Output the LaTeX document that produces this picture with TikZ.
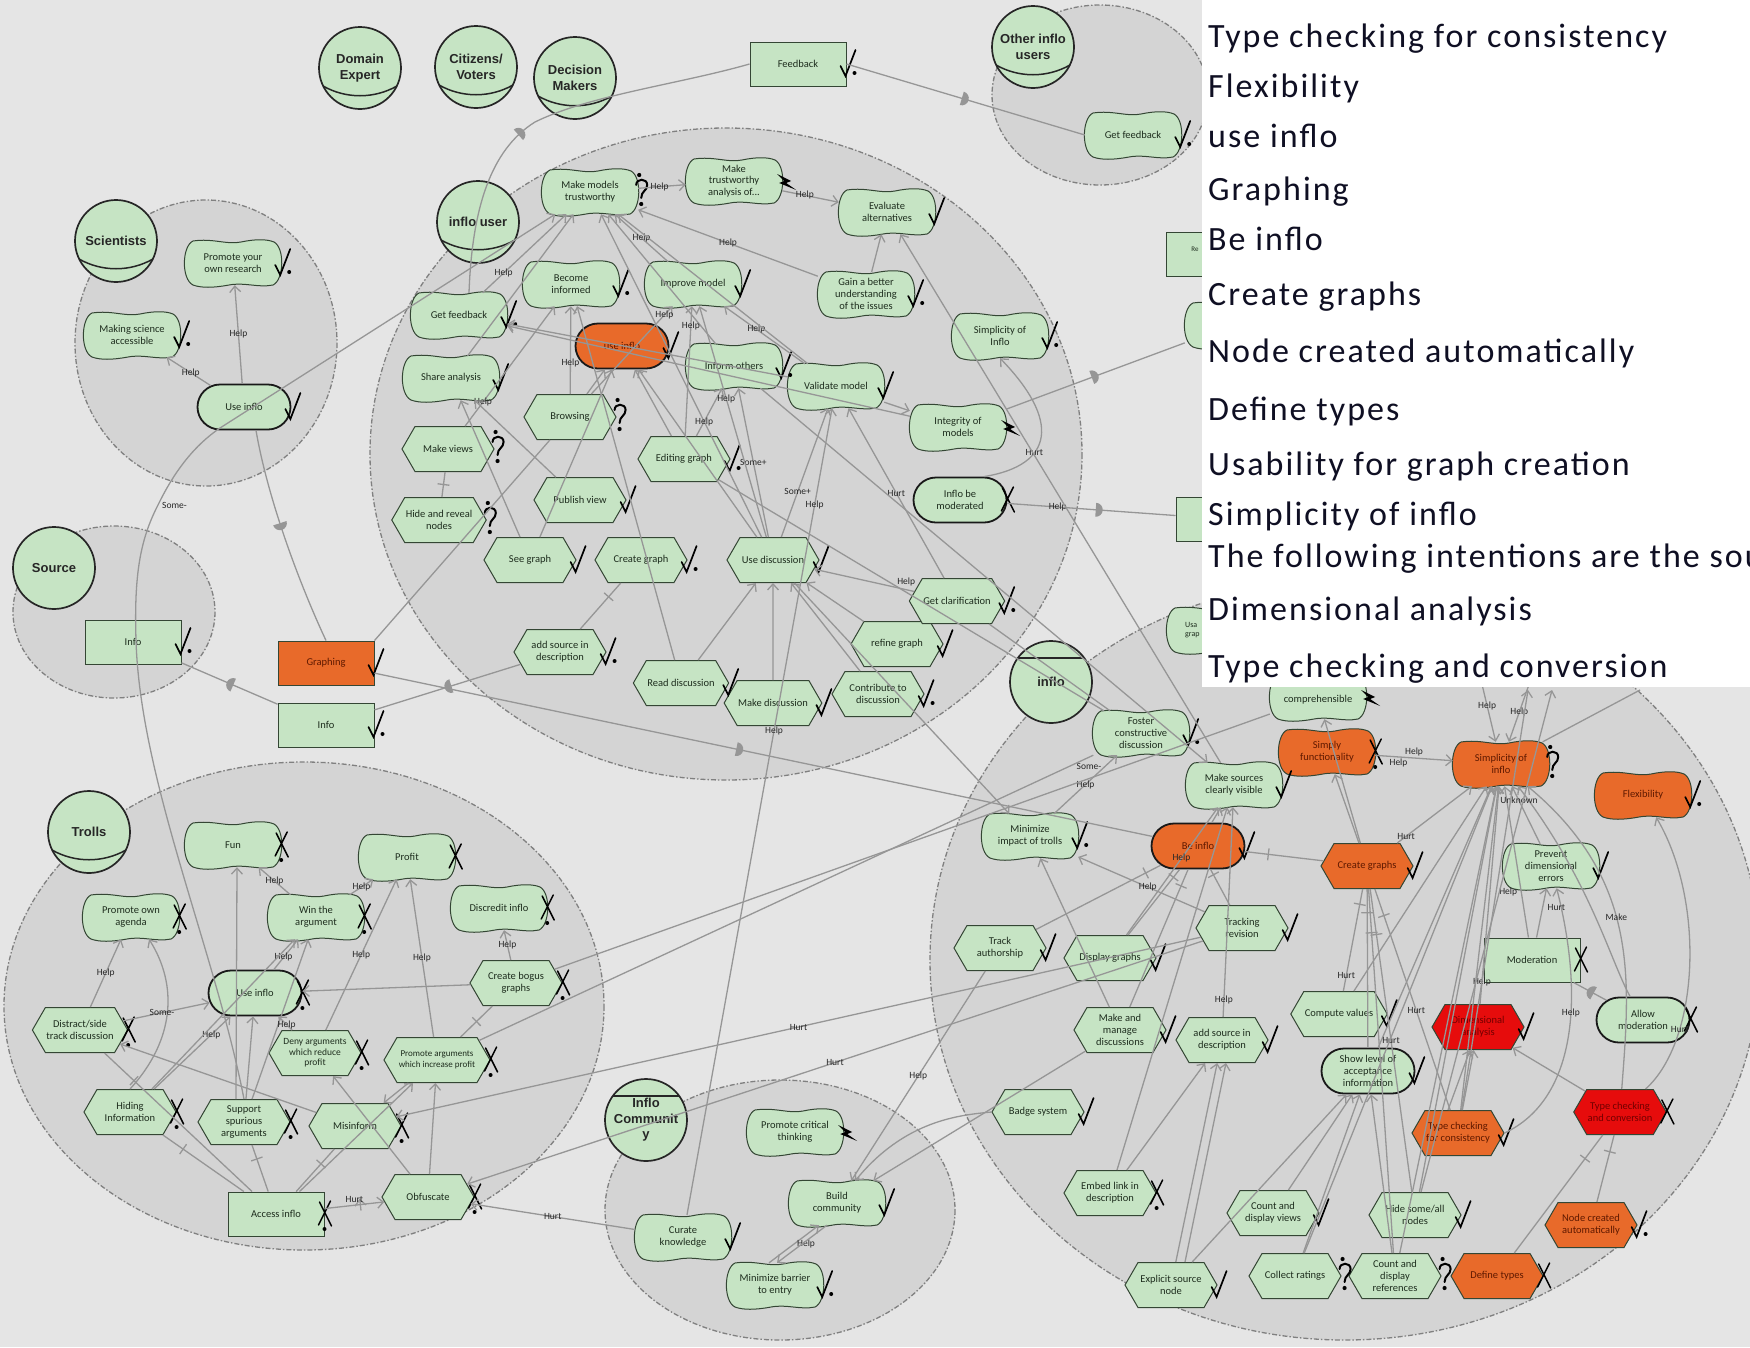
\documentclass[tikz,border=0pt]{standalone}
\usepackage{fontspec}
\setmainfont{Carlito}
\newfontfamily\actorfont{Liberation Sans}
\newfontfamily\panelfont{Carlito}[LetterSpace=6]
\usetikzlibrary{shapes.symbols,shapes.misc,arrows.meta,decorations.markings}

\definecolor{bgc}{RGB}{229,229,229}
\definecolor{bndfill}{RGB}{212,212,212}
\definecolor{bndline}{RGB}{128,128,128}
\definecolor{elgreen}{RGB}{198,228,196}
\definecolor{elorange}{RGB}{232,106,42}
\definecolor{elred}{RGB}{230,12,12}
\definecolor{eledge}{RGB}{52,70,52}
\definecolor{lnk}{RGB}{150,150,150}
\definecolor{txt}{RGB}{30,45,30}
\definecolor{hottxt}{RGB}{95,25,0}
\definecolor{alarmtxt}{RGB}{115,0,0}
\definecolor{paneltext}{RGB}{15,15,35}

\tikzset{
  bnd/.style={fill=bndfill, draw=bndline, line width=1.3pt, dash pattern=on 5pt off 2pt on 1.5pt off 2pt},
  actor/.style={circle, draw=black!85, line width=1.7pt, fill=elgreen, minimum size=82pt, inner sep=0pt,
    align=center, font=\actorfont\bfseries\fontsize{13}{15.5}\selectfont, text=black!85},
  actline/.style={draw=black!85, line width=1.5pt},
  elt/.style={align=center, font=\fontsize{10.5}{11.8}\selectfont, text=txt, inner sep=1pt},
  sgbox/.style={elt, rectangle, minimum width=96pt, minimum height=44pt},
  sgshape/.style={draw=eledge, line width=1pt},
  goal/.style={elt, rounded rectangle, draw=black!90, line width=1.8pt, fill=elgreen, minimum width=95pt, minimum height=45pt},
  task/.style={elt, signal, signal to=east and west, signal pointer angle=120, draw=eledge, line width=1pt,
    fill=elgreen, minimum width=92pt, minimum height=45pt},
  res/.style={elt, rectangle, draw=eledge, line width=1pt, fill=elgreen, minimum width=96pt, minimum height=44pt},
  hot/.style={fill=elorange, text=hottxt},
  alarm/.style={fill=elred, text=alarmtxt},
  lk/.style={draw=lnk, line width=1.3pt},
  ar/.style={lk, -{Straight Barb[length=6pt,width=11pt,line width=1.3pt]}},
  lbl/.style={font=\fontsize{9.5}{10}\selectfont, text=black!85, inner sep=0.5pt},
  dep/.style={lk, postaction={decorate, decoration={markings, mark=at position #1 with
      {\fill[lnk] (-4pt,-7pt) -- (-4pt,7pt) arc[start angle=90, end angle=-90, radius=7pt] -- cycle;}}}},
  dep/.default=0.5,
  dec/.style={lk, postaction={decorate, decoration={markings, mark=at position #1 with
      {\draw[lnk, line width=1.3pt] (0pt,-6pt) -- (0pt,6pt);}}}},
  dec/.default=0.5,
  paneltxt/.style={anchor=base west, inner sep=0pt, font=\panelfont\fontsize{34}{40}\selectfont, text=paneltext},
  sat/.pic={\draw[black, line width=1.7pt, line cap=round] (-3,2) -- (2,12) -- (12,-14);},
  psat/.pic={\draw[black, line width=1.7pt, line cap=round] (-3,2) -- (2,12) -- (12,-14);
    \fill[black] (11,9) circle (2pt);},
  den/.pic={\draw[black, line width=1.5pt, line cap=round] (-2,-12) -- (10,12) (9,-13) -- (-3,11);},
  pden/.pic={\draw[black, line width=1.5pt, line cap=round] (-2,-12) -- (10,12) (9,-13) -- (-3,11);
    \fill[black] (3,15) circle (2pt);},
  unk/.pic={\draw[black, line width=2pt, line cap=round] (0,-7) .. controls (0,-14) and (11,-14) .. (11,-7)
    .. controls (11,-1) and (5,-1) .. (5,6);
    \fill[black] (5,12) circle (2.1pt); \fill[black] (3,-17) circle (2.1pt);},
  cnf/.pic={\fill[black] (-2,-7) -- (12,0) -- (7,2) -- (17,9) -- (0,2) -- (5,0) -- cycle;}
}

% softgoal: wavy cloud outline with a rectangular anchor box
\NewDocumentCommand\softgoal{O{elgreen} O{txt} m m m m}{%
  \draw[sgshape, fill=#1, shift={(#4,#5)}] (-40,-22) .. controls (-20,-25) and (-6,-18) .. (8,-21)
    .. controls (22,-24) and (34,-24) .. (41,-21) .. controls (52,-15) and (51,17) .. (40,22)
    .. controls (25,25) and (12,19) .. (-4,22) .. controls (-20,25) and (-32,25) .. (-40,22)
    .. controls (-52,16) and (-51,-17) .. (-40,-22) -- cycle;
  \node[sgbox, text=#2] (#3) at (#4,#5) {#6};}
% role: circle with a curved line near the bottom
\newcommand\roleactor[4]{%
  \node[actor] (#1) at (#2,#3) {#4};
  \draw[actline, shift={(#2,#3)}] (-37,18) .. controls (-14,31) and (14,31) .. (37,18);}
% agent: circle with a straight line near the top
\newcommand\agentactor[4]{%
  \node[actor] (#1) at (#2,#3) {#4};
  \draw[actline, shift={(#2,#3)}] (-33,-24) -- (33,-24);}

\begin{document}
\begin{tikzpicture}[x=1pt, y=-1pt]
\useasboundingbox (0,0) rectangle (1750,1347);
\fill[bgc] (0,0) rectangle (1750,1347);

% ---------- actor boundaries ----------
\draw[bnd] (206,343) ellipse [x radius=131, y radius=143];
\draw[bnd] (726,454) ellipse [x radius=356, y radius=326];
\draw[bnd] (1100,95) ellipse [x radius=108, y radius=90];
\draw[bnd] (114,612) ellipse [x radius=101, y radius=86];
\draw[bnd] (304,1006) ellipse [x radius=300, y radius=244];
\draw[bnd] (780,1210) ellipse [x radius=175, y radius=130];
\draw[bnd] (1345,960) ellipse [x radius=415, y radius=380];

% ---------- actors ----------
\roleactor{aDomain}{360}{68}{Domain\\Expert}
\roleactor{aCitizens}{476}{67}{Citizens/\\Voters}
\roleactor{aDecision}{575}{78}{Decision\\Makers}
\roleactor{aOther}{1033}{47}{Other inflo\\users}
\roleactor{aScientists}{116}{241}{Scientists}
\roleactor{aUser}{478}{222}{inflo user}
\roleactor{aTrolls}{89}{832}{Trolls}
\node[actor] (aSource) at (54,568) {Source};
\agentactor{aInflo}{1051}{682}{inflo}
\agentactor{aCommunity}{646}{1120}{Inflo\\Communit\\y}

% ---------- Scientists ----------
\softgoal{sciPromote}{233}{263}{Promote your\\own research}
\softgoal{sciMaking}{132}{335}{Making science\\accessible}
\node[goal] (sciUse) at (244,407) {Use inflo};

% ---------- feedback ----------
\node[res] (feedback) at (798,64) {Feedback};
\softgoal{oiuGet}{1133}{135}{Get feedback}

% ---------- inflo user ----------
\softgoal{iuMMT}{590}{192}{Make models\\trustworthy}
\softgoal{iuMTA}{734}{181}{Make\\trustworthy\\analysis of...}
\softgoal{iuEval}{887}{212}{Evaluate\\alternatives}
\softgoal{iuBecome}{571}{284}{Become\\informed}
\softgoal{iuImprove}{693}{284}{Improve model}
\softgoal{iuGain}{866}{294}{Gain a better\\understanding\\of the issues}
\softgoal{iuGetFb}{459}{315}{Get feedback}
\node[goal, hot] (iuUse) at (622,346) {use inflo};
\softgoal{iuInform}{734}{366}{Inform others}
\softgoal{iuValidate}{836}{386}{Validate model}
\softgoal{iuSimp}{1000}{336}{Simplicity of\\Inflo}
\softgoal{iuIntegrity}{958}{427}{Integrity of\\models}
\softgoal{iuShare}{451}{378}{Share analysis}
\node[task] (iuBrowsing) at (570,417) {Browsing};
\node[task] (iuMakeViews) at (448,449) {Make views};
\node[task] (iuHide) at (439,520) {Hide and reveal\\nodes};
\node[task] (iuEditing) at (684,459) {Editing graph};
\node[task] (iuPublish) at (580,500) {Publish view};
\node[task] (iuSee) at (530,560) {See graph};
\node[task] (iuCreate) at (641,560) {Create graph};
\node[task] (iuUseDisc) at (773,560) {Use discussion};
\node[task] (iuAddSrc) at (560,652) {add source in\\description};
\node[task] (iuRead) at (681,683) {Read discussion};
\node[task] (iuMake) at (773,703) {Make discussion};
\node[task] (iuContrib) at (878,694) {Contribute to\\discussion};
\node[task] (iuRefine) at (897,644) {refine graph};
\node[task] (iuClarify) at (957,601) {Get clarification};
\node[goal] (iuModerated) at (960,500) {Inflo be\\moderated};

% ---------- resources between actors ----------
\node[res, hot] (graphing) at (326,663) {Graphing};
\node[res] (info2) at (326,725) {Info};
\node[res] (srcInfo) at (133,642) {Info};

% ---------- elements along the right edge ----------
\node[res] (resRe) at (1214,254) {};
\node[elt, font=\fontsize{7}{8}\selectfont] (resReTxt) at (1195,249) {Re};
\node[res] (resM) at (1224,519) {};
\softgoal{sgHid}{1233}{325}{}
\softgoal{sgUsa}{1215}{630}{}
\node[elt, anchor=west, align=left, font=\fontsize{8}{9}\selectfont] (sgUsaTxt) at (1184,630) {Usa\\grap};
\softgoal{sgComp}{1318}{697}{\mbox{}\\comprehensible}

% ---------- inflo ----------
\softgoal{inFoster}{1141}{733}{Foster\\constructive\\discussion}
\softgoal{inSources}{1234}{785}{Make sources\\clearly visible}
\softgoal{inTrolls}{1030}{836}{Minimize\\impact of trolls}
\node[goal, hot] (inBe) at (1198,846) {Be inflo};
\softgoal[elorange][hottxt]{inSimplyF}{1327}{752}{Simply\\functionality}
\softgoal[elorange][hottxt]{inSimp}{1501}{764}{Simplicity of\\inflo}
\softgoal[elorange][hottxt]{inFlex}{1643}{795}{Flexibility}
\node[task, hot] (inCreate) at (1367,866) {Create graphs};
\softgoal{inPrevent}{1551}{866}{Prevent\\dimensional\\errors}
\node[res] (inModeration) at (1532,960) {Moderation};
\node[goal] (inAllow) at (1643,1020) {Allow\\moderation};
\node[task, alarm] (inDim) at (1478,1027) {Dimensional\\analysis};
\node[task, alarm] (inTCC) at (1620,1112) {Type checking\\and conversion};
\node[task, hot] (inTCF) at (1458,1133) {Type checking\\for consistency};
\node[task, hot] (inNode) at (1591,1225) {Node created\\automatically};
\node[task, hot] (inDefine) at (1497,1276) {Define types};
\node[task] (inCountRef) at (1395,1276) {Count and\\display\\references};
\node[task] (inHide) at (1415,1215) {Hide some/all\\nodes};
\node[goal] (inShow) at (1368,1071) {Show level of\\acceptance\\information};
\node[task] (inCompute) at (1339,1014) {Compute values};
\node[task] (inTracking) at (1242,928) {Tracking\\revision};
\node[task] (inTrackAuth) at (1000,948) {Track\\authorship};
\node[task] (inDisplay) at (1110,958) {Display graphs};
\node[task] (inMakeManage) at (1120,1030) {Make and\\manage\\discussions};
\node[task] (inAddSrc) at (1222,1040) {add source in\\description};
\node[task] (inBadge) at (1038,1112) {Badge system};
\node[task] (inEmbed) at (1110,1193) {Embed link in\\description};
\node[task] (inExplicit) at (1171,1285) {Explicit source\\node};
\node[task] (inCountViews) at (1273,1213) {Count and\\display views};
\node[task] (inCollect) at (1295,1276) {Collect ratings};

% ---------- Trolls ----------
\softgoal{trFun}{233}{845}{Fun}
\softgoal{trProfit}{407}{857}{Profit}
\softgoal{trAgenda}{131}{917}{Promote own\\agenda}
\softgoal{trWin}{316}{917}{Win the\\argument}
\softgoal{trDiscredit}{499}{908}{Discredit inflo}
\node[goal] (trUse) at (255,993) {Use inflo};
\node[task] (trDistract) at (80,1030) {Distract/side\\track discussion};
\node[task, font=\fontsize{9.5}{10.5}\selectfont] (trDeny) at (315,1053) {Deny arguments\\which reduce\\profit};
\node[task, minimum width=106pt, font=\fontsize{9}{10.5}\selectfont] (trPromote) at (437,1060) {Promote arguments\\which increase profit};
\node[task] (trBogus) at (516,983) {Create bogus\\graphs};
\node[task] (trHiding) at (130,1112) {Hiding\\Information};
\node[task] (trSupport) at (244,1122) {Support\\spurious\\arguments};
\node[task] (trMisinform) at (355,1126) {Misinform};
\node[res] (trAccess) at (276,1214) {Access inflo};
\node[task] (trObfuscate) at (428,1197) {Obfuscate};

% ---------- Inflo Community ----------
\softgoal{icCritical}{795}{1132}{Promote critical\\thinking}
\softgoal{icBuild}{837}{1203}{Build\\community}
\softgoal{icCurate}{683}{1237}{Curate\\knowledge}
\softgoal{icBarrier}{775}{1285}{Minimize barrier\\to entry}

% ---------- evaluation marks ----------
\foreach \n in {sciUse,iuEval,iuImprove,iuUse,iuValidate,iuShare,iuPublish,iuSee,iuUseDisc,iuRead,iuMake,
  iuRefine,graphing,inSources,inBe,inCreate,inPrevent,inDim,inTCF,inHide,inShow,inCompute,inTracking,
  inTrackAuth,inDisplay,inMakeManage,inAddSrc,inBadge,inExplicit,inCountViews,icBuild,icCurate}
  \pic at ([xshift=-3pt]\n.east) {sat};
\foreach \n in {sciPromote,sciMaking,feedback,oiuGet,iuBecome,iuGain,iuGetFb,iuInform,iuSimp,iuEditing,
  iuCreate,iuAddSrc,iuContrib,iuClarify,info2,srcInfo,inFoster,inTrolls,inFlex,inNode,icBarrier}
  \pic at ([xshift=-3pt]\n.east) {psat};
\foreach \n in {iuModerated,inModeration,inAllow,inTCC,inDefine,trProfit}
  \pic at ([xshift=-3pt]\n.east) {den};
\foreach \n in {inSimplyF,inEmbed,trFun,trAgenda,trWin,trDiscredit,trUse,trDistract,trDeny,trPromote,
  trBogus,trHiding,trSupport,trMisinform,trAccess,trObfuscate}
  \pic at ([xshift=-3pt]\n.east) {pden};
\foreach \n in {iuMMT,iuBrowsing,iuMakeViews,iuHide,inSimp,inCountRef,inCollect}
  \pic at ([xshift=-2pt]\n.east) {unk};
\foreach \n in {iuMTA,iuIntegrity,sgComp,icCritical}
  \pic at ([xshift=-3pt]\n.east) {cnf};

% ---------- links: Scientists and dependencies ----------
\draw[ar] (sciUse) -- (sciPromote) node[lbl,pos=.5]{Help};
\draw[ar] (sciUse) -- (sciMaking) node[lbl,pos=.45]{Help};
\draw[dep=.45] ([xshift=12pt]sciUse.south) .. controls (268,500) and (300,585) .. (graphing.north);
\draw[ar] (trSupport.north) .. controls (215,950) and (140,780) .. (136,640)
  .. controls (134,575) and (140,540) .. (158,505) node[lbl,right=3pt]{Some-}
  .. controls (175,470) and (195,445) .. (220,428) -- (iuMMT);
\draw[dep=.42] ([xshift=10pt]iuGetFb.north) .. controls (472,210) and (490,150) .. (535,122)
  .. controls (590,95) and (680,84) .. (feedback.west);
\draw[dep] (feedback.east) -- (oiuGet.west);
\draw[dep=.47] (graphing) -- (inBe);
\draw[dep] (iuAddSrc) -- (info2);
\draw[dep] (info2) -- (srcInfo);
\draw[lk] (graphing.north east) -- (iuBrowsing);
\draw[dep] (iuIntegrity) -- (sgHid);
\draw[dep=.55] (iuModerated) -- (resM) node[lbl,pos=.3]{Help};

% ---------- links: inflo user ----------
\draw[ar] (iuMMT) -- (iuMTA) node[lbl,pos=.45]{Help};
\draw[ar] (iuMTA) -- (iuEval) node[lbl,pos=.4]{Help};
\draw[ar] (iuGetFb) -- (iuMMT) node[lbl,pos=.25]{Help};
\draw[ar] (iuShare) -- (iuMMT);
\draw[ar] (iuImprove) -- (iuMMT) node[lbl,pos=.5]{Help};
\draw[ar] (iuGain) -- (iuMMT) node[lbl,pos=.5]{Help};
\draw[ar] (iuGain) -- (iuEval);
\draw[ar] (iuValidate) -- (iuImprove) node[lbl,pos=.6]{Help};
\draw[ar] (iuValidate) -- (iuMMT);
\draw[ar] (iuInform) -- (iuMMT);
\draw[ar] (iuUseDisc) -- (iuMMT);
\draw[ar] (iuBrowsing) -- (iuBecome) node[lbl,pos=.35]{Help};
\draw[ar] (iuMakeViews) -- (iuBecome) node[lbl,pos=.2]{Help};
\draw[ar] (iuSee) -- (iuUse);
\draw[ar] (iuUseDisc) -- (iuUse);
\draw[ar] (iuEditing) -- (iuUse);
\draw[ar] (iuBrowsing) -- (iuUse);
\draw[ar] (iuEditing) -- (iuInform) node[lbl,pos=.3]{Help};
\draw[ar] (iuUseDisc) -- (iuInform) node[lbl,pos=.5]{Some+};
\draw[ar] (iuUseDisc) -- (iuValidate) node[lbl,pos=.35]{Some+};
\draw[ar] (iuClarify) -- (iuValidate) node[lbl,pos=.5]{Hurt};
\draw[ar] (iuUseDisc) -- (iuImprove) node[lbl,pos=.6]{Help};
\draw[ar] (iuEditing) -- (iuImprove) node[lbl,pos=.85]{Help};
\draw[ar] (iuBrowsing) -- (iuImprove) node[lbl,pos=.9]{Help};
\draw[dec] (iuMakeViews) -- (iuHide);
\draw[dec=.3] (iuCreate) -- (iuAddSrc);
\draw[ar] (iuRead) -- (iuUseDisc);
\draw[ar] (iuMake) -- (iuUseDisc);
\draw[ar] (iuContrib) -- (iuUseDisc);
\draw[ar] (iuRefine) -- (iuUseDisc);
\draw[ar] (iuClarify) -- (iuUseDisc) node[lbl,pos=.08,above=3pt]{Help};
\draw[ar] (iuRead) -- (iuBecome);
\draw[ar] (iuPublish) -- (iuShare);
\draw[ar] (iuIntegrity) -- (iuGetFb);
\draw[ar] (iuValidate) -- (iuGetFb);
\draw[ar] (iuSee) -- (iuShare);
\draw[ar] (iuModerated.north east) .. controls (1055,465) and (1060,420) .. (iuSimp.south) node[lbl,pos=.35]{Hurt};
\draw[ar] (iuValidate) -- (iuIntegrity);

% ---------- links: between inflo user and inflo ----------
\draw[ar] (inSources) -- (iuEval);
\draw[ar] (iuInform) -- (inSources);
\draw[lk] (iuEditing) -- (inFoster);
\draw[ar] (iuUseDisc) -- (inTrolls);
\draw[lk] (iuClarify) -- (inFoster);

% ---------- links: inflo ----------
\draw[ar] (inTrolls) -- (inFoster) node[lbl,pos=.5]{Help} node[lbl,pos=.8,left=2pt]{Some-};
\draw[dec=.12] (inBe) -- (inTrackAuth);
\draw[dec=.12] (inBe) -- (inDisplay);
\draw[dec=.3] (inBe) -- (inCreate);
\draw[dec=.15] (inBe) -- (inTracking);
\draw[dec=.12] (inBe) -- (inMakeManage);
\draw[ar] (inBe) -- (inSources);
\draw[ar] (inEmbed) -- (inAddSrc);
\draw[ar] (inExplicit) -- (inAddSrc);
\draw[ar] ([xshift=14pt]inExplicit.north) -- ([xshift=4pt]inAddSrc.south);
\draw[ar] (inEmbed) -- (inSources);
\draw[ar] (inAddSrc) -- (inSources) node[lbl,pos=.08]{Help};
\draw[ar] (inTracking) -- (inTrolls) node[lbl,pos=.45]{Help};
\draw[ar] (inMakeManage) -- (inTrolls);
\draw[ar] (inDisplay) -- (inSources) node[lbl,pos=.6]{Help};
\draw[ar] (inCountViews) -- (inShow);
\draw[ar] (inCollect) -- (inShow);
\draw[ar] (inCountRef) -- (inShow);
\draw[ar] (inExplicit) -- (inShow);
\draw[ar] (inHide) -- (inSimp);
\draw[ar] (inShow) -- (inSimp);
\draw[ar] (inCreate) -- (inSimp) node[lbl,pos=.12]{Hurt};
\draw[ar] (inCreate) -- (inSimplyF);
\draw[ar] (inSimplyF) -- (inSimp) node[lbl,pos=.5,above=1pt]{Help} node[lbl,pos=.3,below=1pt]{Help};
\draw[ar] (inTCF) -- (inDim);
\draw[ar] ([xshift=-10pt]inTCF.north) -- ([xshift=-8pt]inDim.south);
\draw[ar] (inTCC) -- (inDim);
\draw[ar] (inTCF.east) .. controls (1575,1100) and (1585,1000) .. (inPrevent) node[lbl,pos=.6]{Help};
\draw[ar] (inDim) -- (inSimp) node[lbl,pos=.1]{Help};
\draw[ar] (inModeration) -- (inPrevent) node[lbl,pos=.6,right=4pt]{Hurt};
\draw[ar] (inModeration) -- (inSimp) node[lbl,pos=.3,left=3pt]{Help};
\draw[dep] (inAllow) -- (inModeration);
\draw[dec=.25] (inTCC) -- (inNode);
\draw[dec=.2] (inTCC) -- (inDefine);
\draw[ar] (inTCC) .. controls (1700,1040) and (1705,900) .. (inFlex) node[lbl,pos=.28]{Hurt};
\draw[ar] (inTCC) .. controls (1630,980) and (1640,880) .. (inSimp) node[lbl,pos=.55]{Make};
\draw[ar] (inAllow) .. controls (1610,960) and (1590,880) .. (inSimp);
\draw[ar] (inPrevent) -- (inSimp) node[lbl,pos=.75]{Unknown};
\draw[ar] (inCompute) -- (inSimp);
\draw[dec=.15] (inCreate) -- (inCompute) node[lbl,pos=.85]{Hurt};
\draw[dec=.15] (inCreate) -- (inShow);
\draw[dec=.15] (inCreate) -- (inHide) node[lbl,pos=.5]{Hurt};
\draw[dec=.12] (inCreate) -- (inCountRef);
\draw[dec=.12] (inCreate) -- (inTCF) node[lbl,pos=.55]{Hurt};
\draw[ar] (inTCF) -- (inSimp);
\draw[ar] (inCountRef) -- (inSimp);
\draw[ar] (inCollect) -- (inSimp);
\coordinate (hidA) at (1480,676);
\coordinate (hidB) at (1532,676);
\coordinate (hidC) at (1528,690);
\coordinate (hidD) at (1552,690);
\coordinate (hidE) at (1640,690);
\draw[ar] (hidA) -- (inSimp) node[lbl,pos=.45]{Help};
\draw[ar] (hidB) -- (inSimp) node[lbl,pos=.55]{Help};
\draw[ar] (inTCF) -- (hidC);
\draw[ar] (inHide) -- (hidD);
\draw[lk] (inSimp) -- (hidE);
\draw[ar] (inCreate) -- (sgComp);

% ---------- links: Inflo Community ----------
\draw[ar] (inTrackAuth) -- (icBuild) node[lbl,pos=.5]{Help};
\draw[ar] (inBadge.west) .. controls (960,1115) and (905,1120) .. (icBuild);
\draw[ar] (inMakeManage) -- (icBuild);
\draw[ar] ([xshift=-6pt]icBarrier.north) -- ([xshift=-18pt]icBuild.south) node[lbl,pos=.5,right=2pt]{Help};
\draw[ar] ([xshift=-10pt]icBuild.south) -- ([xshift=2pt]icBarrier.north);
\draw[ar] (icCurate) -- (iuValidate) node[lbl,pos=.6]{Help} node[lbl,pos=.88]{Help};
\draw[ar] (icCurate) -- (trObfuscate) node[lbl,pos=.5]{Hurt};

% ---------- links: Trolls ----------
\draw[ar] (inTracking) -- (trMisinform) node[lbl,pos=.5]{Hurt};
\draw[ar] (inTracking) -- (trObfuscate) node[lbl,pos=.5]{Hurt};
\draw[lk] (trBogus) -- (sgComp);
\draw[lk] (trPromote) -- (inFoster);
\draw[ar] (trDistract) -- (trAgenda) node[lbl,pos=.5]{Help};
\draw[ar] (trHiding.north) .. controls (175,1040) and (178,985) .. ([xshift=18pt]trAgenda.south);
\draw[ar] (trDistract) -- (trUse) node[lbl,pos=.45]{Some-};
\draw[ar] (trMisinform) -- (trDistract);
\draw[ar] (trUse) -- (trWin) node[lbl,pos=.4]{Help};
\draw[ar] (trHiding) -- (trUse) node[lbl,pos=.75]{Help};
\draw[ar] (trHiding) -- (trWin);
\draw[ar] (trSupport) -- (trUse);
\draw[ar] (trSupport) -- (trWin);
\draw[ar] (trDeny) -- (trUse) node[lbl,pos=.4]{Help};
\draw[ar] (trBogus) -- (trUse);
\draw[ar] (trBogus) -- (trDiscredit) node[lbl,pos=.5]{Help};
\draw[ar] ([xshift=-8pt]trSupport.north) -- ([xshift=4pt]trFun.south);
\draw[ar] (trWin) -- (trFun) node[lbl,pos=.5]{Help};
\draw[ar] (trWin) -- (trProfit) node[lbl,pos=.5]{Help};
\draw[ar] (trDeny) -- (trProfit) node[lbl,pos=.5]{Help};
\draw[ar] (trPromote) -- (trProfit) node[lbl,pos=.5]{Help};
\draw[dec=.2] (trDistract) -- (trAccess);
\draw[dec=.25] (trHiding) -- (trAccess);
\draw[dec=.3] (trSupport) -- (trAccess);
\draw[dec=.35] (trMisinform) -- (trAccess);
\draw[ar, dec=.6] (trAccess) -- (trObfuscate) node[lbl,pos=.5,above=2pt]{Hurt};
\draw[ar] (trObfuscate) -- (trDeny);
\draw[ar] (trObfuscate) -- (trPromote);
\draw[dec] (trPromote) -- (trBogus);
\draw[ar] (trPromote) -- (trMisinform);
\draw[ar] (trAccess) -- (trPromote);

% ---------- text panel ----------
\fill[white] (1202,0) rectangle (1750,687);
\node[paneltxt] (p1) at (1208,47) {Type checking for consistency};
\node[paneltxt] (p2) at (1208,97) {Flexibility};
\node[paneltxt] (p3) at (1208,147) {use inflo};
\node[paneltxt] (p4) at (1208,200) {Graphing};
\node[paneltxt] (p5) at (1208,250) {Be inflo};
\node[paneltxt] (p6) at (1208,305) {Create graphs};
\node[paneltxt] (p7) at (1208,362) {Node created automatically};
\node[paneltxt] (p8) at (1208,420) {Define types};
\node[paneltxt] (p9) at (1208,475) {Usability for graph creation};
\node[paneltxt] (p10) at (1208,525) {Simplicity of inflo};
\node[paneltxt] (p11) at (1208,567) {The following intentions are the sou};
\node[paneltxt] (p12) at (1208,620) {Dimensional analysis};
\node[paneltxt] (p13) at (1208,677) {Type checking and conversion};
\end{tikzpicture}
\end{document}
